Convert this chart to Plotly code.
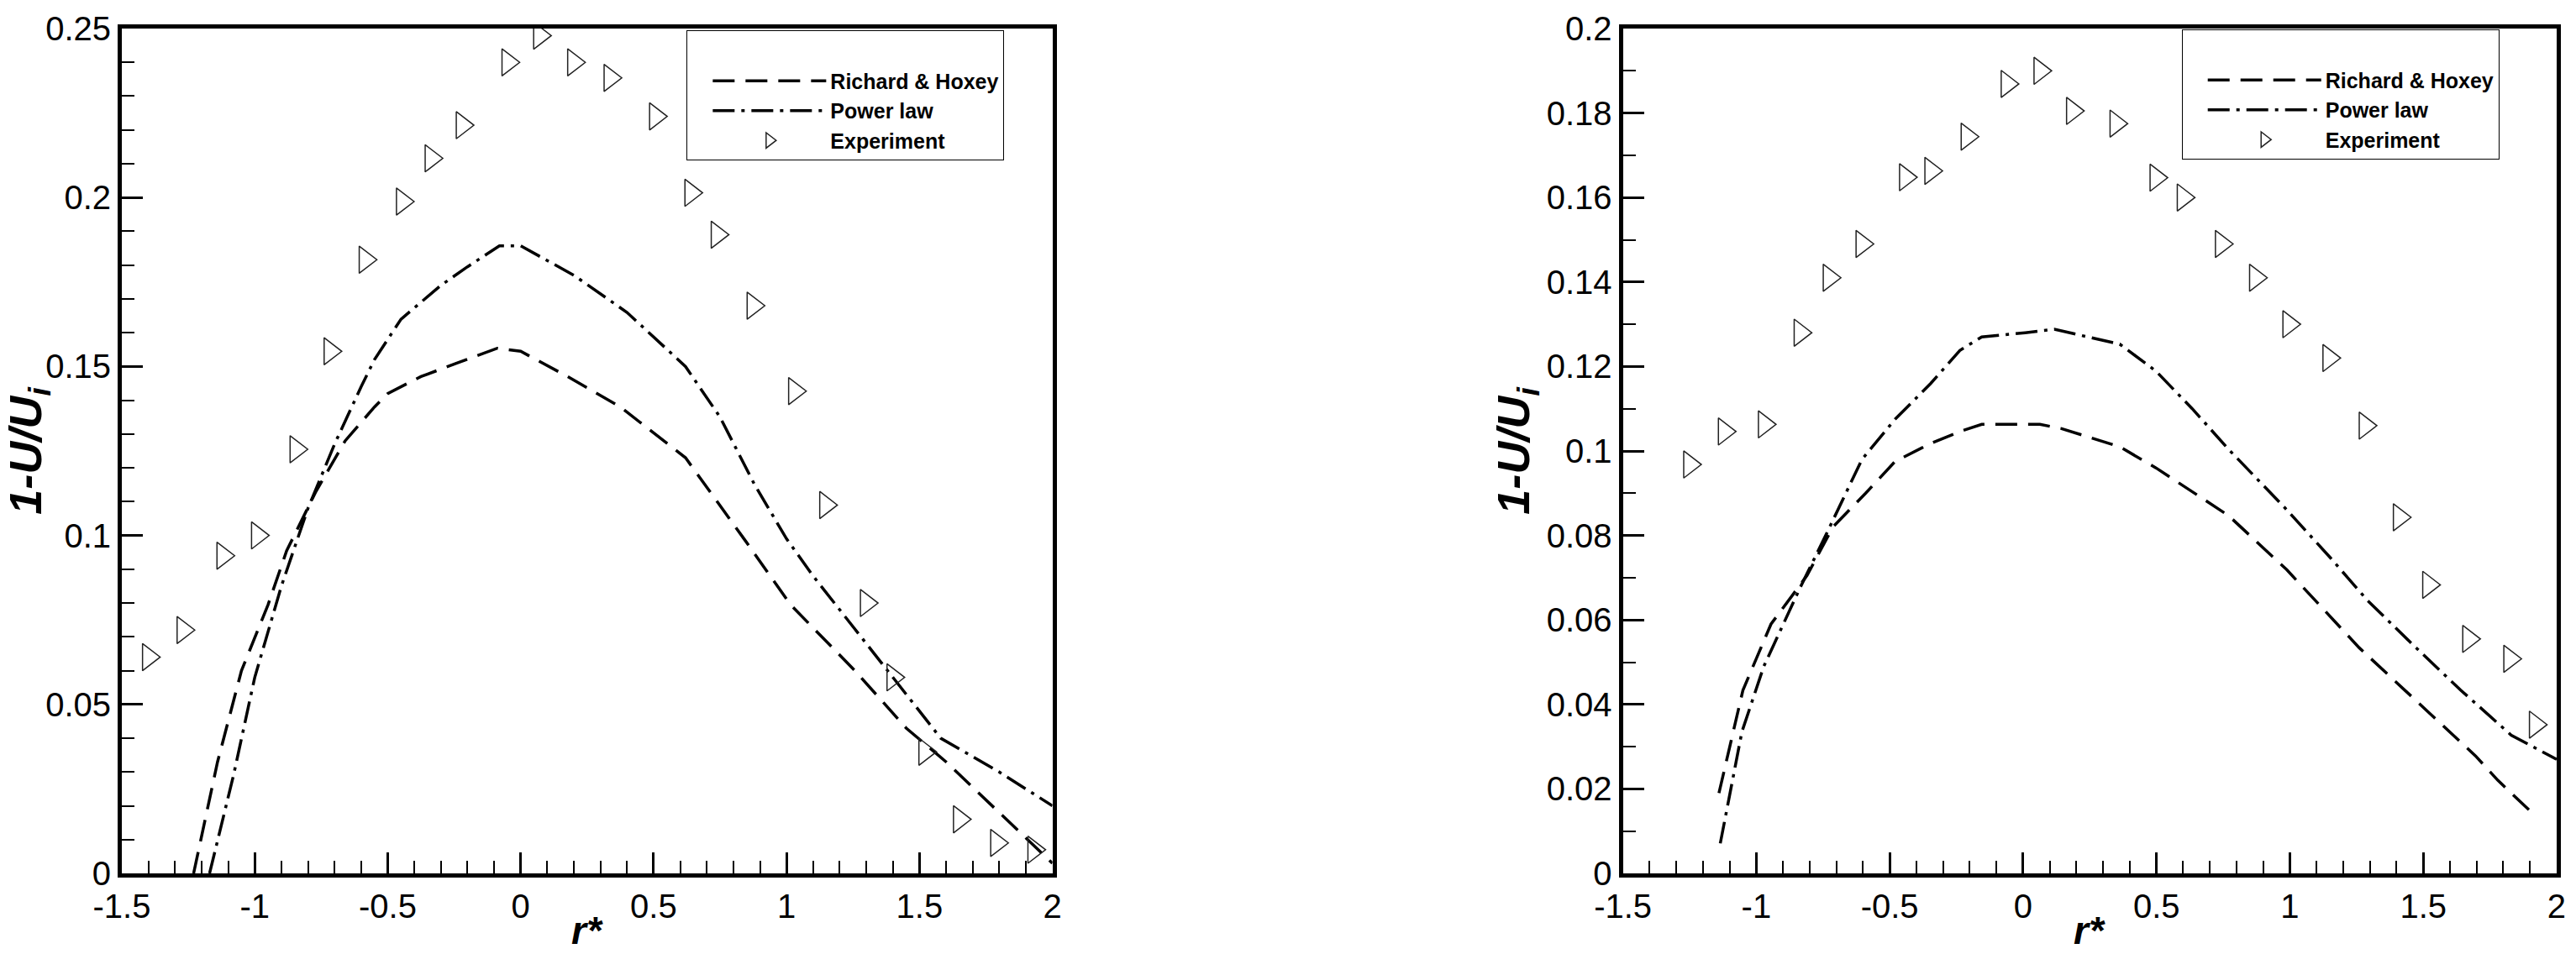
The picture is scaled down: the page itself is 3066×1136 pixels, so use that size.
import plotly.graph_objects as go

# ---- data ----
# left panel
left_exp_r = [-1.40, -1.27, -1.12, -0.99, -0.845, -0.717, -0.585, -0.445, -0.337, -0.22,
              -0.048, 0.071, 0.199, 0.336, 0.507, 0.64, 0.739, 0.874, 1.03, 1.147,
              1.30, 1.40, 1.52, 1.65, 1.79, 1.93]
left_exp_u = [0.064, 0.072, 0.094, 0.100, 0.1255, 0.1545, 0.1816, 0.1988, 0.2116, 0.2214,
              0.240, 0.2479, 0.240, 0.2354, 0.224, 0.2014, 0.189, 0.168, 0.1427, 0.109,
              0.080, 0.058, 0.036, 0.016, 0.009, 0.007]

left_rh_r = [-1.23, -1.14, -1.05, -0.95, -0.88, -0.77, -0.66, -0.55, -0.5, -0.375, -0.24,
             -0.088, 0.0, 0.177, 0.375, 0.62, 0.84, 1.015, 1.257, 1.45, 1.6, 1.8, 2.0]
left_rh_u = [0.0, 0.033, 0.060, 0.0795, 0.0955, 0.113, 0.128, 0.138, 0.142, 0.147, 0.151,
             0.1554, 0.1545, 0.147, 0.138, 0.123, 0.099, 0.0795, 0.060, 0.043, 0.033, 0.018, 0.003]

left_pl_r = [-1.17, -1.08, -1.0, -0.9, -0.8, -0.7, -0.6, -0.55, -0.45, -0.3, -0.2, -0.08,
             0.0, 0.2, 0.4, 0.62, 0.75, 0.88, 1.0, 1.1, 1.25, 1.4, 1.58, 1.8, 2.0]
left_pl_u = [0.0, 0.029, 0.058, 0.085, 0.108, 0.127, 0.144, 0.152, 0.164, 0.174, 0.1795, 0.1857,
             0.1857, 0.177, 0.166, 0.150, 0.135, 0.115, 0.099, 0.088, 0.073, 0.058, 0.040, 0.030, 0.020]

# right panel
right_exp_r = [-1.25, -1.12, -0.97, -0.836, -0.727, -0.604, -0.441, -0.346, -0.21, -0.06,
               0.063, 0.185, 0.348, 0.498, 0.60, 0.743, 0.871, 0.996, 1.146, 1.282,
               1.41, 1.52, 1.67, 1.824, 1.92]
right_exp_u = [0.0968, 0.1046, 0.1063, 0.128, 0.141, 0.149, 0.1648, 0.1663, 0.1744, 0.1869,
               0.190, 0.1805, 0.1775, 0.1647, 0.160, 0.149, 0.141, 0.130, 0.122, 0.106,
               0.0843, 0.0683, 0.0555, 0.0508, 0.0352]

right_rh_r = [-1.14, -1.05, -0.945, -0.81, -0.713, -0.59, -0.48, -0.346, -0.237, -0.155,
              0.063, 0.144, 0.362, 0.498, 0.77, 0.988, 1.26, 1.505, 1.696, 1.78, 1.91]
right_rh_u = [0.019, 0.0434, 0.059, 0.0705, 0.082, 0.090, 0.0975, 0.1018, 0.1046, 0.1063,
              0.1063, 0.1053, 0.101, 0.096, 0.0847, 0.0719, 0.0534, 0.039, 0.0278, 0.022, 0.0142]

right_pl_r = [-1.135, -1.054, -0.972, -0.836, -0.74, -0.604, -0.48, -0.346, -0.237, -0.155,
              0.008, 0.117, 0.362, 0.498, 0.634, 0.77, 0.988, 1.152, 1.288, 1.45, 1.64, 1.83, 2.0]
right_pl_u = [0.0071, 0.0335, 0.049, 0.0676, 0.080, 0.098, 0.1075, 0.116, 0.1238, 0.127,
              0.128, 0.1288, 0.1253, 0.1189, 0.110, 0.1004, 0.0861, 0.0747, 0.0648, 0.0548,
              0.0434, 0.0327, 0.027]

x_tick_vals = [-1.5, -1, -0.5, 0, 0.5, 1, 1.5, 2]
x_tick_text = ["-1.5", "-1", "-0.5", "0", "0.5", "1", "1.5", "2"]

FONT = "Liberation Sans, Arial, sans-serif"
DASH = "26px,13px"
DASHDOT = "26px,8px,4px,8px"

fig = go.Figure()

panels = [
    ("x", "y", "legend", left_rh_r, left_rh_u, left_pl_r, left_pl_u, left_exp_r, left_exp_u),
    ("x2", "y2", "legend2", right_rh_r, right_rh_u, right_pl_r, right_pl_u, right_exp_r, right_exp_u),
]
for xa, ya, leg, rh_r, rh_u, pl_r, pl_u, ex_r, ex_u in panels:
    fig.add_trace(go.Scatter(x=rh_r, y=rh_u, mode="lines", name="Richard & Hoxey",
                             line=dict(color="black", width=3.5, dash=DASH),
                             xaxis=xa, yaxis=ya, legend=leg))
    fig.add_trace(go.Scatter(x=pl_r, y=pl_u, mode="lines", name="Power law",
                             line=dict(color="black", width=3.5, dash=DASHDOT),
                             xaxis=xa, yaxis=ya, legend=leg))
    fig.add_trace(go.Scatter(x=ex_r, y=ex_u, mode="markers", name="Experiment",
                             marker=dict(symbol="triangle-right-open", size=28, color="#222",
                                         line=dict(width=1.5, color="#222")),
                             xaxis=xa, yaxis=ya, legend=leg))

axis_common = dict(
    showline=True, linecolor="black", linewidth=5, mirror=True,
    ticks="inside", ticklen=25, tickwidth=3, tickcolor="black",
    showgrid=False, zeroline=False,
    tickfont=dict(family=FONT, size=40, color="black"),
)
title_font = dict(family=FONT, color="black", weight="bold", style="italic")
ytitle = dict(text="1-U/U<sub>i</sub>", font=dict(size=54, **title_font), standoff=4)

x_minor = dict(dtick=0.1, tick0=0, ticks="inside", ticklen=15, tickwidth=1.5, tickcolor="black", showgrid=False)
y_minor = dict(dtick=0.01, tick0=0, ticks="inside", ticklen=15, tickwidth=1.5, tickcolor="black", showgrid=False)

legend_common = dict(
    xanchor="left", yanchor="top", bgcolor="white", bordercolor="black", borderwidth=1,
    font=dict(family=FONT, size=25, color="black", weight="bold"),
    title=dict(text=" ", font=dict(size=28)),
    indentation=25, itemwidth=135, tracegroupgap=0,
)

fig.update_layout(
    width=3066, height=1136,
    margin=dict(l=133, r=18, t=23, b=96),
    paper_bgcolor="white", plot_bgcolor="white",
    showlegend=True,
    xaxis=dict(domain=[0, 0.3822], range=[-1.5, 2], tickmode="array",
               tickvals=x_tick_vals, ticktext=x_tick_text, minor=x_minor,
               anchor="y", **axis_common),
    yaxis=dict(range=[0, 0.25], dtick=0.05, minor=y_minor, title=ytitle,
               anchor="x", **axis_common),
    xaxis2=dict(domain=[0.6165, 1], range=[-1.5, 2], tickmode="array",
                tickvals=x_tick_vals, ticktext=x_tick_text, minor=x_minor,
                anchor="y2", **axis_common),
    yaxis2=dict(range=[0, 0.2], dtick=0.02, minor=y_minor, title=ytitle,
                anchor="x2", **axis_common),
    legend=dict(x=0.232, y=0.998, **legend_common),
    legend2=dict(x=0.846, y=0.999, **legend_common),
)

# x-axis titles below each panel
for xref in ["x domain", "x2 domain"]:
    fig.add_annotation(text="r*", xref=xref, yref="paper", x=0.5, y=-0.068,
                       xanchor="center", yanchor="middle", showarrow=False,
                       font=dict(size=46, **title_font))

# drop the default body margin so the figure fills the window exactly
fig.write_html("out.html", config={"displayModeBar": False},
               post_script="document.body.style.margin='0';")
